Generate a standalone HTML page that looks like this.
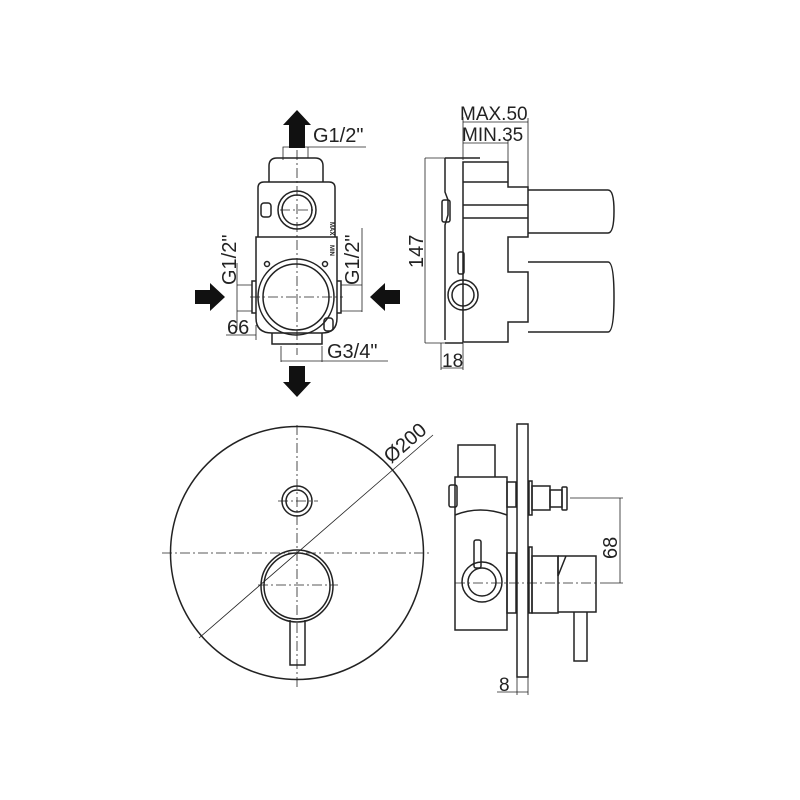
<!DOCTYPE html>
<html><head><meta charset="utf-8"><style>
html,body{margin:0;padding:0;background:#fff;width:800px;height:800px;overflow:hidden}
text{font-family:"Liberation Sans",sans-serif;fill:#222}
</style></head><body>
<svg width="800" height="800" viewBox="0 0 800 800" xmlns="http://www.w3.org/2000/svg">
<g fill="none" stroke="#222" stroke-width="1.5">
<!-- TOP LEFT -->
<path d="M269,182 V166 Q269,158 277,158 H315 Q323,158 323,166 V182"/>
<path d="M258,237 V188 Q258,182 264,182 H329 Q335,182 335,188 V237"/>
<path d="M256,237 H337 V318 Q337,333 322,333 H272 Q256,333 256,318 Z"/>
<path d="M272,333 V344 H322 V333"/>
<circle cx="297" cy="210" r="19"/><circle cx="297" cy="210" r="15"/>
<circle cx="296" cy="297" r="38"/><circle cx="296" cy="297" r="33"/>
<path d="M256,281 H252 V313 H256 M337,281 H341 V313 H337"/>
<rect x="261" y="203" width="10" height="14" rx="3"/>
<rect x="324" y="318" width="9" height="13" rx="3"/>
<circle cx="267" cy="264" r="2.5"/><circle cx="325" cy="264" r="2.5"/>
<g stroke-width="0.8">
<path d="M283,160 V147 H366 M308,147 V158"/>
<path d="M237,263 V330 M237,285 H252 M237,311 H252"/>
<path d="M362,228 V312 M341,285 H362 M341,311 H362"/>
<path d="M226,335 H256 M256,325 V340"/>
<path d="M281,346 V362 M322,346 V362 M281,361 H388"/>
</g>
<g stroke-width="0.8" stroke-dasharray="10,3,2,3">
<path d="M297,150 V355 M250,297 H343 M280,210 H314"/>
</g>
<!-- TOP RIGHT -->
<path d="M463,162 H508 V187 H528 V237 H508 V272 H528 V322 H508 V342 H463 Z"/>
<path d="M528,190 H608 Q614,190 614,211 Q614,233 608,233 H528"/>
<path d="M528,262 H608 Q614,262 614,297 Q614,332 608,332 H528"/>
<path d="M463,182 H508 M463,205 H528 M463,218 H528"/>
<path d="M445,158 H480 M445,158 V192 L448,200 V215 L445,225 V340 M445,343 H463"/>
<rect x="442" y="200" width="8" height="22" rx="2"/>
<circle cx="463" cy="295" r="15"/><circle cx="463" cy="295" r="11"/>
<rect x="458" y="252" width="6" height="22" rx="2"/>
<g stroke-width="0.8">
<path d="M463,160 V117 M528,188 V118 M463,122 H528 M508,162 V140 M463,143 H508"/>
<path d="M425,158 H445 M425,343 H445 M425,158 V343"/>
<path d="M441,343 V370 M463,343 V370 M441,368 H463"/>
</g>
<!-- BOTTOM LEFT -->
<circle cx="297" cy="553" r="126.5"/>
<circle cx="297" cy="501" r="15"/><circle cx="297" cy="501" r="11"/>
<circle cx="297" cy="586" r="36"/><circle cx="297" cy="586" r="33"/>
<path d="M290,620 V665 H305 V620"/>
<g stroke-width="0.8">
<path d="M199,638 L433,435"/>
</g>
<g stroke-width="0.8" stroke-dasharray="10,3,2,3">
<path d="M162,553 H430 M297,425 V690 M278,501 H318 M258,585 H338"/>
</g>
<!-- BOTTOM RIGHT -->
<rect x="517" y="424" width="11" height="253"/>
<path d="M458,477 V445 H495 V477"/>
<path d="M455,477 H507 V630 H455 Z"/>
<path d="M455,515 Q480,505 507,515"/>
<rect x="507" y="482" width="9" height="25"/>
<rect x="507" y="553" width="9" height="60"/>
<rect x="449" y="485" width="8" height="22" rx="2"/>
<rect x="529" y="481" width="3" height="34"/>
<rect x="532" y="486" width="18" height="24"/>
<rect x="550" y="490" width="12" height="17"/>
<rect x="562" y="487" width="5" height="23" rx="1"/>
<rect x="529" y="547" width="3" height="66"/>
<rect x="532" y="556" width="26" height="57"/>
<path d="M558,556 H596 V612 H558 M558,556 V576 L566,556"/>
<path d="M574,612 V661 H587 V612"/>
<circle cx="482" cy="582" r="20"/><circle cx="482" cy="582" r="14"/>
<rect x="474" y="540" width="7" height="28" rx="2"/>
<g stroke-width="0.8">
<path d="M570,498 H623 M600,583 H623 M620,498 V583"/>
<path d="M517,677 V695 M528,677 V695 M497,692 H528"/>
</g>
<g stroke-width="0.8" stroke-dasharray="10,3,2,3">
<path d="M455,583 H598"/>
</g>
</g>
<!-- arrows -->
<g fill="#111">
<path d="M297,110 L311,125 H305 V148 H289 V125 H283 Z"/>
<path d="M297,397 L311,382 H305 V366 H289 V382 H283 Z"/>
<path d="M225,297 L210,283 V290 H195 V304 H210 V311 Z"/>
<path d="M370,297 L385,283 V290 H400 V304 H385 V311 Z"/>
</g>
<!-- texts -->
<text x="313" y="142" font-size="20">G1/2"</text>
<text x="327" y="358" font-size="20">G3/4"</text>
<text x="227" y="334" font-size="20">66</text>
<text transform="translate(236,285) rotate(-90)" font-size="20">G1/2"</text>
<text transform="translate(359,285) rotate(-90)" font-size="20">G1/2"</text>
<text transform="translate(330,222) rotate(90)" font-size="6" font-weight="bold">MAX</text>
<text transform="translate(330,245) rotate(90)" font-size="6" font-weight="bold">MIN</text>
<text x="460" y="120" font-size="19">MAX.50</text>
<text x="462" y="141" font-size="19">MIN.35</text>
<text transform="translate(423,268) rotate(-90)" font-size="20">147</text>
<text x="442" y="367" font-size="19">18</text>
<text transform="translate(391,464) rotate(-41)" font-size="20">Ø200</text>
<text transform="translate(617,559) rotate(-90)" font-size="20">68</text>
<text x="499" y="691" font-size="19">8</text>
</svg>
</body></html>
